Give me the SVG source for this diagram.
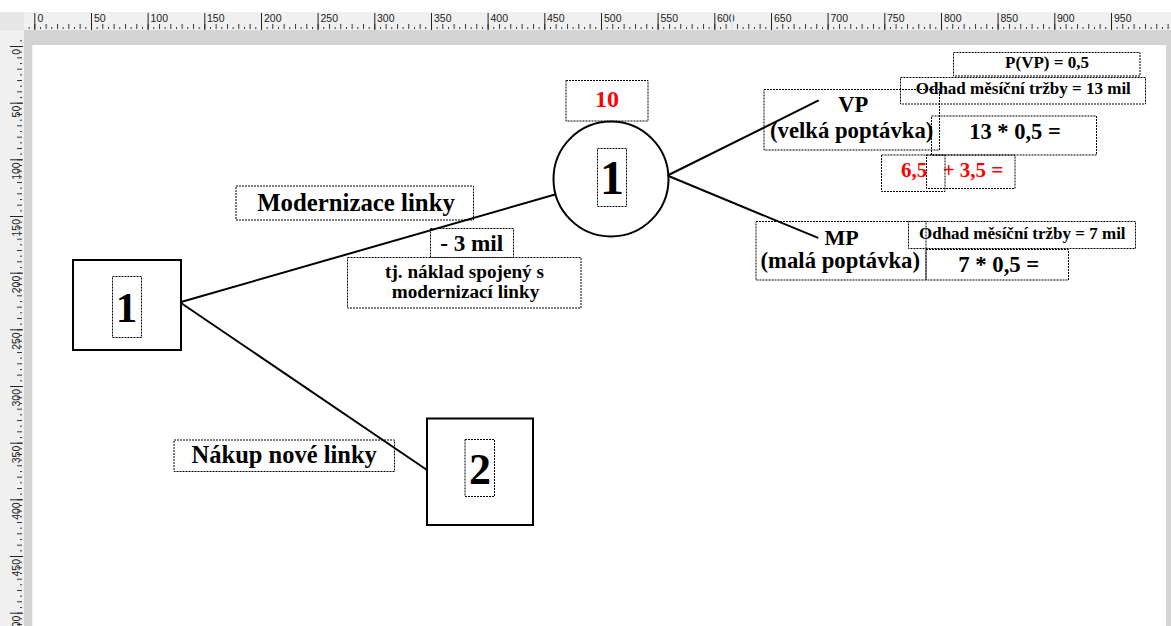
<svg xmlns="http://www.w3.org/2000/svg" width="1171" height="626" viewBox="0 0 1171 626">
  <defs>
    <style>
      .rulerbg { fill: #f0f0f0; }
      .band { fill: #d4d4d4; }
      .rlabel { font-family: "Liberation Sans", Arial, sans-serif; font-size: 10.5px; fill: #222; }
      .major { stroke: #222; stroke-width: 1; }
      .frame { fill: none; stroke: #000; stroke-dasharray: 2 1; stroke-width: 1; }
      .shape { fill: none; stroke: #000; stroke-width: 2; }
      .edge { fill: none; stroke: #000; stroke-width: 2; stroke-linecap: round; }
      .t { font-family: "Liberation Serif", "Times New Roman", serif; font-weight: bold; fill: #000; text-anchor: middle; }
      .red { fill: #ff0000; }
    </style>
    <!-- ruler minor ticks: 10-unit tick and 5-unit dot, 1 unit = 1.1333 px -->
    <pattern id="ticksH" patternUnits="userSpaceOnUse" x="34.3" y="0" width="11.333" height="30">
      <rect x="0" y="24" width="1" height="5" fill="#333"/>
      <rect x="5.667" y="27" width="1" height="2" fill="#333"/>
    </pattern>
    <pattern id="ticksV" patternUnits="userSpaceOnUse" x="0" y="46" width="24" height="11.333">
      <rect x="17" y="0" width="5" height="1" fill="#333"/>
      <rect x="20" y="5.667" width="2" height="1" fill="#333"/>
    </pattern>
  </defs>

  <!-- window chrome: rulers and grey margins -->
  <g id="rulers">
    <rect x="0" y="0" width="1171" height="626" fill="#ffffff"/>
    <rect class="rulerbg" x="0" y="12" width="1171" height="18"/>
    <rect x="0" y="12" width="24" height="18" fill="#e6e6e6"/>
    <rect class="rulerbg" x="0" y="30" width="24" height="596"/>
    <rect class="band" x="24" y="30" width="1147" height="15"/>
    <rect class="band" x="24" y="30" width="8.5" height="596"/>
    <rect class="band" x="1166" y="30" width="5" height="596"/>
    <rect x="28" y="12" width="1143" height="18" fill="url(#ticksH)"/>
    <rect x="0" y="36" width="24" height="590" fill="url(#ticksV)"/>

    <!-- top ruler major marks every 50 units -->
    <g class="major">
      <line x1="34.8" y1="13" x2="34.8" y2="30"/>
      <line x1="91.5" y1="13" x2="91.5" y2="30"/>
      <line x1="148.1" y1="13" x2="148.1" y2="30"/>
      <line x1="204.8" y1="13" x2="204.8" y2="30"/>
      <line x1="261.5" y1="13" x2="261.5" y2="30"/>
      <line x1="318.1" y1="13" x2="318.1" y2="30"/>
      <line x1="374.8" y1="13" x2="374.8" y2="30"/>
      <line x1="431.5" y1="13" x2="431.5" y2="30"/>
      <line x1="488.1" y1="13" x2="488.1" y2="30"/>
      <line x1="544.8" y1="13" x2="544.8" y2="30"/>
      <line x1="601.5" y1="13" x2="601.5" y2="30"/>
      <line x1="658.1" y1="13" x2="658.1" y2="30"/>
      <line x1="714.8" y1="13" x2="714.8" y2="30"/>
      <line x1="771.5" y1="13" x2="771.5" y2="30"/>
      <line x1="828.1" y1="13" x2="828.1" y2="30"/>
      <line x1="884.8" y1="13" x2="884.8" y2="30"/>
      <line x1="941.5" y1="13" x2="941.5" y2="30"/>
      <line x1="998.1" y1="13" x2="998.1" y2="30"/>
      <line x1="1054.8" y1="13" x2="1054.8" y2="30"/>
      <line x1="1111.5" y1="13" x2="1111.5" y2="30"/>
    </g>
    <g class="rlabel">
      <text x="37.5" y="22">0</text>
      <text x="94" y="22">50</text>
      <text x="150.5" y="22">100</text>
      <text x="207" y="22">150</text>
      <text x="264" y="22">200</text>
      <text x="320.5" y="22">250</text>
      <text x="377" y="22">300</text>
      <text x="434" y="22">350</text>
      <text x="490.5" y="22">400</text>
      <text x="547" y="22">450</text>
      <text x="604" y="22">500</text>
      <text x="660.5" y="22">550</text>
      <text x="717" y="22">600</text>
      <text x="774" y="22">650</text>
      <text x="830.5" y="22">700</text>
      <text x="887" y="22">750</text>
      <text x="944" y="22">800</text>
      <text x="1000.5" y="22">850</text>
      <text x="1057" y="22">900</text>
      <text x="1114" y="22">950</text>
    </g>
    <!-- pointer position marker -->
    <line x1="732" y1="13" x2="732" y2="29" stroke="#d8e6f5" stroke-width="2"/>

    <!-- left ruler major marks every 50 units -->
    <g class="major">
      <line x1="10" y1="46.5" x2="23" y2="46.5"/>
      <line x1="10" y1="103.2" x2="23" y2="103.2"/>
      <line x1="10" y1="159.8" x2="23" y2="159.8"/>
      <line x1="10" y1="216.5" x2="23" y2="216.5"/>
      <line x1="10" y1="273.2" x2="23" y2="273.2"/>
      <line x1="10" y1="329.8" x2="23" y2="329.8"/>
      <line x1="10" y1="386.5" x2="23" y2="386.5"/>
      <line x1="10" y1="443.2" x2="23" y2="443.2"/>
      <line x1="10" y1="499.8" x2="23" y2="499.8"/>
      <line x1="10" y1="556.5" x2="23" y2="556.5"/>
      <line x1="10" y1="613.2" x2="23" y2="613.2"/>
    </g>
    <g class="rlabel" text-anchor="end">
      <text transform="translate(19.5 49) rotate(-90)">0</text>
      <text transform="translate(19.5 105.7) rotate(-90)">50</text>
      <text transform="translate(19.5 162.3) rotate(-90)">100</text>
      <text transform="translate(19.5 219) rotate(-90)">150</text>
      <text transform="translate(19.5 275.7) rotate(-90)">200</text>
      <text transform="translate(19.5 332.3) rotate(-90)">250</text>
      <text transform="translate(19.5 389) rotate(-90)">300</text>
      <text transform="translate(19.5 445.7) rotate(-90)">350</text>
      <text transform="translate(19.5 502.3) rotate(-90)">400</text>
      <text transform="translate(19.5 559) rotate(-90)">450</text>
      <text transform="translate(19.5 615.7) rotate(-90)">500</text>
    </g>
    <rect x="32.5" y="45" width="1133.5" height="581" fill="#ffffff"/>
  </g>

  <!-- decision tree branches -->
  <g id="connectors">
    <line class="edge" x1="181" y1="302" x2="555" y2="194.5"/>
    <line class="edge" x1="181" y1="303" x2="427" y2="470"/>
    <line class="edge" x1="668.5" y1="175" x2="818" y2="100.7"/>
    <line class="edge" x1="668.5" y1="176" x2="817.5" y2="237.7"/>
  </g>

  <g id="decision-1">
    <rect class="shape" x="73" y="260" width="108" height="90"/>
    <rect class="frame" x="112.5" y="276.5" width="29" height="61"/>
    <text class="t" x="126.5" y="322" font-size="43">1</text>
  </g>

  <g id="chance-1">
    <circle class="shape" cx="611" cy="179" r="57.5"/>
    <rect class="frame" x="597.5" y="148.5" width="29" height="58"/>
    <text class="t" x="612" y="194.3" font-size="48">1</text>
  </g>

  <g id="decision-2">
    <rect class="shape" x="427" y="418.5" width="106" height="106.5"/>
    <rect class="frame" x="465" y="439.5" width="29.5" height="57"/>
    <text class="t" x="480" y="483.5" font-size="44">2</text>
  </g>

  <g id="value-chance-1">
    <rect class="frame" x="566" y="80.5" width="82" height="40.5"/>
    <text class="t red" x="607" y="106.7" font-size="24">10</text>
  </g>

  <g id="label-modernizace">
    <rect class="frame" x="236" y="186" width="237.5" height="34"/>
    <text class="t" x="356" y="210.7" font-size="24.8">Modernizace linky</text>
  </g>

  <g id="label-cost">
    <rect class="frame" x="430.5" y="228.5" width="83" height="29"/>
    <text class="t" x="471.7" y="251.3" font-size="23.2">- 3 mil</text>
  </g>

  <g id="label-cost-note">
    <rect class="frame" x="347.5" y="257.5" width="233.5" height="50.5"/>
    <text class="t" x="464.5" y="277.7" font-size="19.2">tj. náklad spojený s</text>
    <text class="t" x="465.5" y="297.7" font-size="19.2">modernizací linky</text>
  </g>

  <g id="label-nakup">
    <rect class="frame" x="174" y="440" width="220.5" height="31.5"/>
    <text class="t" x="284.2" y="463.3" font-size="24.5">Nákup nové linky</text>
  </g>

  <g id="outcome-vp">
    <rect class="frame" x="764" y="89.5" width="175.5" height="60.5"/>
    <text class="t" x="853.3" y="111.7" font-size="22.5">VP</text>
    <text class="t" x="851.7" y="138.3" font-size="22.7">(velká poptávka)</text>
  </g>

  <g id="prob-vp">
    <rect class="frame" x="953.5" y="52.5" width="186.5" height="23.5"/>
    <text class="t" x="1047" y="68.3" font-size="17">P(VP) = 0,5</text>
  </g>

  <g id="revenue-vp">
    <rect class="frame" x="900.5" y="77.5" width="245" height="26.5"/>
    <text class="t" x="1023.3" y="94" font-size="17">Odhad měsíční tržby = 13 mil</text>
  </g>

  <g id="calc-vp">
    <rect class="frame" x="931.5" y="116" width="165" height="39"/>
    <text class="t" x="1015" y="139.3" font-size="22.5">13 * 0,5 =</text>
  </g>

  <g id="sum-vp">
    <rect class="frame" x="926.5" y="155" width="88.5" height="33.5"/>
    <text class="t red" x="973" y="176.7" font-size="21">+ 3,5 =</text>
  </g>

  <g id="value-vp">
    <rect class="frame" x="881.5" y="155" width="63.5" height="36.5"/>
    <text class="t red" x="914" y="176.7" font-size="21">6,5</text>
  </g>

  <g id="outcome-mp">
    <rect class="frame" x="756" y="221.5" width="170" height="58.5"/>
    <text class="t" x="841.7" y="245" font-size="22">MP</text>
    <text class="t" x="840.3" y="267.7" font-size="22.7">(malá poptávka)</text>
  </g>

  <g id="revenue-mp">
    <rect class="frame" x="908.5" y="221.5" width="227" height="27"/>
    <text class="t" x="1022.3" y="239.3" font-size="17">Odhad měsíční tržby = 7 mil</text>
  </g>

  <g id="calc-mp">
    <rect class="frame" x="926" y="249.5" width="142.5" height="30.5"/>
    <text class="t" x="998.8" y="271.7" font-size="22.7">7 * 0,5 =</text>
  </g>
</svg>
